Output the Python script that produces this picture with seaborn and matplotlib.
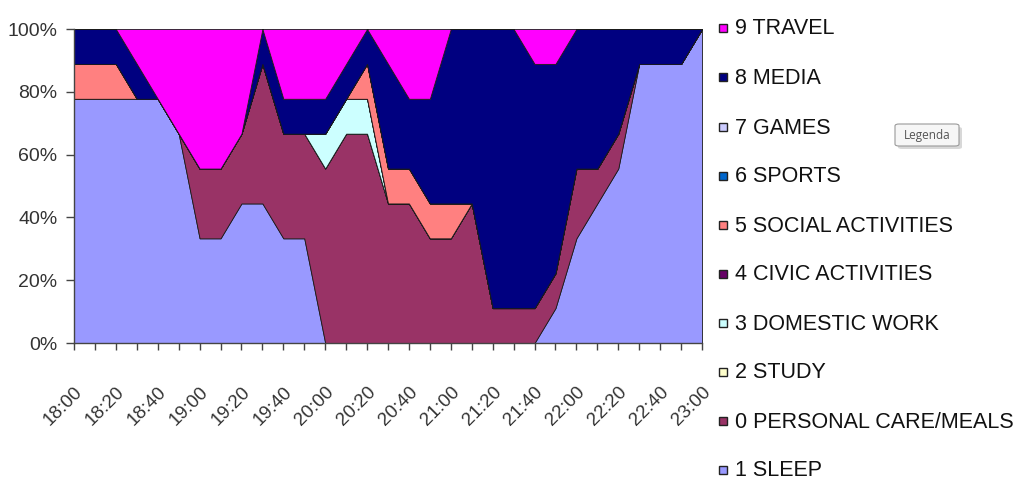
import matplotlib
matplotlib.use("Agg")
import matplotlib.pyplot as plt
from matplotlib.patches import Rectangle, FancyBboxPatch
from matplotlib.ticker import FuncFormatter
import numpy as np
import pandas as pd
import seaborn as sns

# Ten-minute time slots of the evening
times = ["18:00", "18:10", "18:20", "18:30", "18:40", "18:50", "19:00", "19:10",
         "19:20", "19:30", "19:40", "19:50", "20:00", "20:10", "20:20", "20:30",
         "20:40", "20:50", "21:00", "21:10", "21:20", "21:30", "21:40", "21:50",
         "22:00", "22:10", "22:20", "22:30", "22:40", "22:50", "23:00"]

# Number of respondents (out of 9) doing each activity in each slot
sleep    = [7, 7, 7, 7, 7, 6, 3, 3, 4, 4, 3, 3, 0, 0, 0, 0, 0, 0, 0, 0, 0, 0, 0, 1, 3, 4, 5, 8, 8, 8, 9]
personal = [0, 0, 0, 0, 0, 0, 2, 2, 2, 4, 3, 3, 5, 6, 6, 4, 4, 3, 3, 4, 1, 1, 1, 1, 2, 1, 1, 0, 0, 0, 0]
study    = [0] * 31
domestic = [0, 0, 0, 0, 0, 0, 0, 0, 0, 0, 0, 0, 1, 1, 1, 0, 0, 0, 0, 0, 0, 0, 0, 0, 0, 0, 0, 0, 0, 0, 0]
civic    = [0] * 31
social   = [1, 1, 1, 0, 0, 0, 0, 0, 0, 0, 0, 0, 0, 0, 1, 1, 1, 1, 1, 0, 0, 0, 0, 0, 0, 0, 0, 0, 0, 0, 0]
sports   = [0] * 31
games    = [0] * 31
media    = [1, 1, 1, 1, 0, 0, 0, 0, 0, 1, 1, 1, 1, 1, 1, 3, 2, 3, 5, 5, 8, 8, 7, 6, 4, 4, 3, 1, 1, 1, 0]
travel   = [0, 0, 0, 1, 2, 3, 4, 4, 3, 0, 2, 2, 2, 1, 0, 1, 2, 2, 0, 0, 0, 0, 1, 1, 0, 0, 0, 0, 0, 0, 0]

labels = ["1 SLEEP", "0 PERSONAL CARE/MEALS", "2 STUDY", "3 DOMESTIC WORK",
          "4 CIVIC ACTIVITIES", "5 SOCIAL ACTIVITIES", "6 SPORTS", "7 GAMES",
          "8 MEDIA", "9 TRAVEL"]
colors = ["#9999FF", "#993366", "#FFFFCC", "#CCFFFF", "#660066",
          "#FF8080", "#0066CC", "#CCCCFF", "#000080", "#FF00FF"]

counts = pd.DataFrame(
    dict(zip(labels, [sleep, personal, study, domestic, civic, social,
                      sports, games, media, travel])),
    index=times)
# 100 % stacked: each slot is scaled to its column total
shares = counts.div(counts.sum(axis=1), axis=0)

sns.set_theme(style="white")
plt.rcParams["font.family"] = ["Liberation Sans", "DejaVu Sans"]

W, H = 1019, 482
fig = plt.figure(figsize=(W / 100, H / 100), dpi=100)
ax = fig.add_axes([74 / W, 1 - 343 / H, (702 - 74) / W, (343 - 29) / H])

x = np.arange(len(times))
ax.stackplot(x, *[shares[c].values for c in labels], colors=colors,
             edgecolor="#1a1a1a", linewidth=0.6)

ax.set_xlim(0, len(times) - 1)
ax.set_ylim(0, 1)
ax.set_xticks(x)
ax.set_xticklabels([t if i % 2 == 0 else "" for i, t in enumerate(times)],
                   rotation=45, ha="right", rotation_mode="anchor",
                   fontsize=13.5, color="#333333")
ax.set_yticks(np.linspace(0, 1, 6))
ax.yaxis.set_major_formatter(FuncFormatter(lambda v, _: f"{v * 100:.0f}%"))
ax.tick_params(axis="y", labelsize=14, labelcolor="#333333", length=6,
               width=1, color="#444444", direction="out", left=True, pad=6)
ax.tick_params(axis="x", length=5, width=1, color="#444444",
               direction="out", bottom=True, pad=24)
sns.despine(ax=ax, top=True, right=True)
for s in ("left", "bottom"):
    ax.spines[s].set_color("#444444")
    ax.spines[s].set_linewidth(1)
ax.grid(False)

# Legend on the right, last series on top
row_y = [28, 77, 127, 176, 225, 274, 323, 372, 421, 470]
for yy, lab, col in zip(row_y, labels[::-1], colors[::-1]):
    fig.patches.append(Rectangle(((719) / W, 1 - (yy + 4) / H), 8 / W, 8 / H,
                                 transform=fig.transFigure, facecolor=col,
                                 edgecolor="#222222", linewidth=1.0))
    fig.text(735 / W, 1 - (yy + 1) / H, lab, fontsize=15.5, color="#111111",
             va="center", ha="left")

# Hover tip box
shadow = FancyBboxPatch((898 / W, 1 - 149 / H), 64 / W, 22 / H,
                        boxstyle="round,pad=0,rounding_size=0.004",
                        transform=fig.transFigure, facecolor="#d8d8d8",
                        edgecolor="none")
tip = FancyBboxPatch((895 / W, 1 - 146 / H), 64 / W, 22 / H,
                     boxstyle="round,pad=0,rounding_size=0.004",
                     transform=fig.transFigure, facecolor="#f6f6f6",
                     edgecolor="#9a9a9a", linewidth=0.8)
fig.patches.extend([shadow, tip])
fig.text(927 / W, 1 - 135 / H, "Legenda", fontsize=8.5, color="#555555",
         ha="center", va="center", family=["Open Sans", "DejaVu Sans"])

fig.savefig("out.png", dpi=100)
